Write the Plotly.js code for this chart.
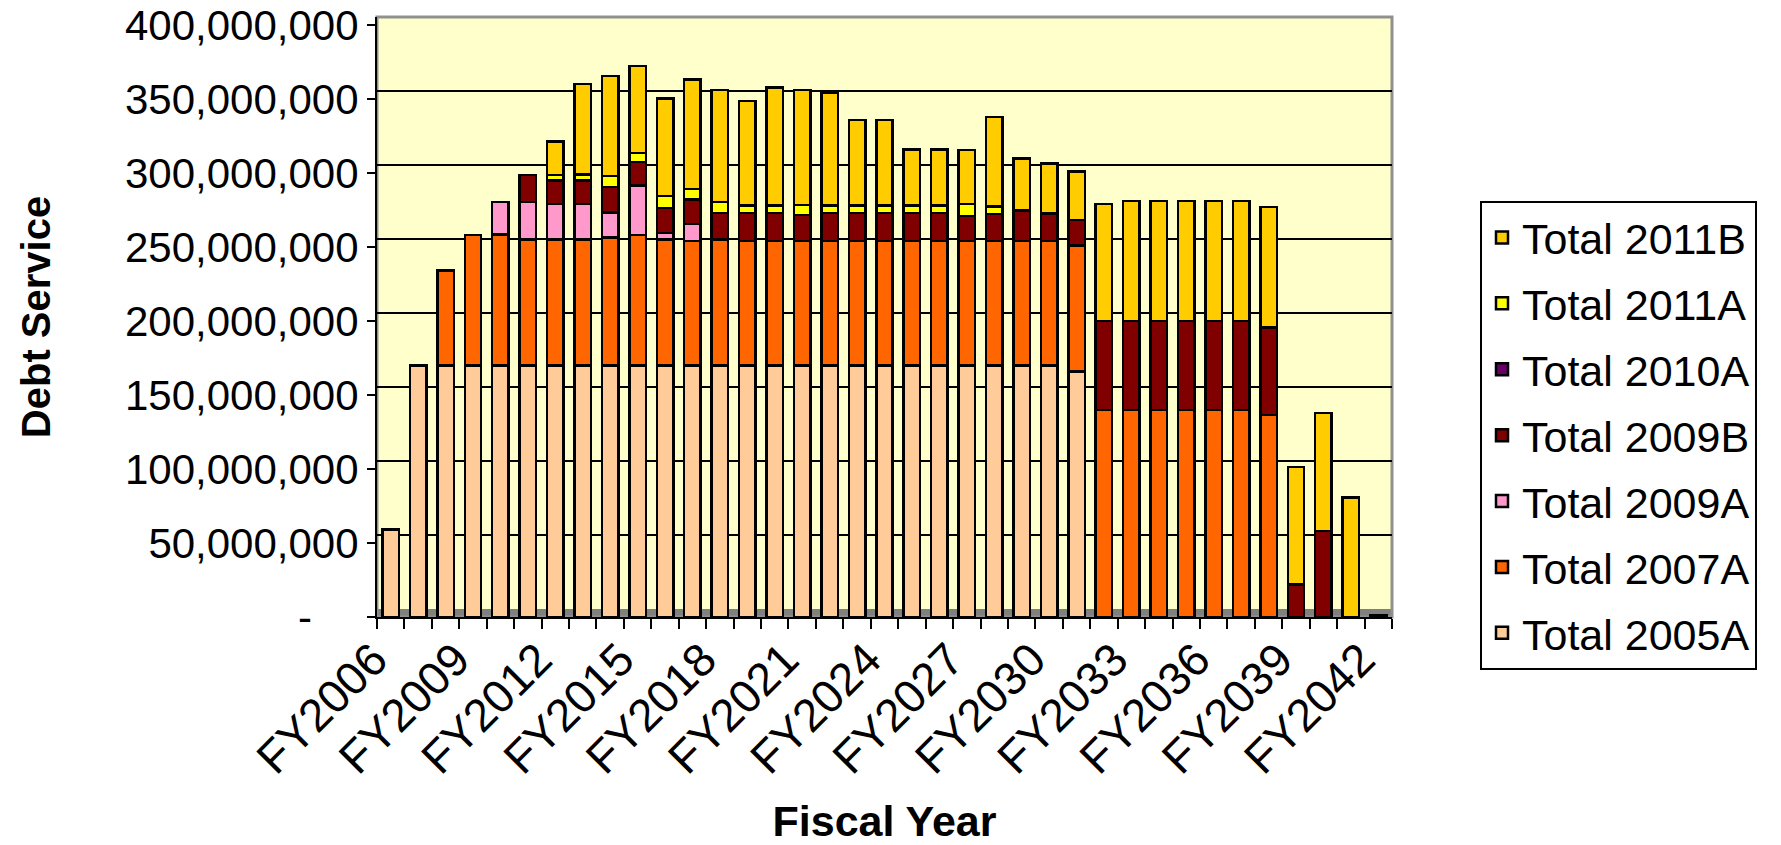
<!DOCTYPE html>
<html>
<head>
<meta charset="utf-8">
<script src="https://cdn.plot.ly/plotly-3.0.1.min.js"></script>
<style>
  html, body { margin: 0; padding: 0; background: #ffffff; }
  #chart { width: 1781px; height: 845px; }
</style>
</head>
<body>
<div id="chart"></div>
<script>
// ---- Data (values in millions of dollars) ----
const fiscalYears = [
  'FY2006','FY2007','FY2008','FY2009','FY2010','FY2011','FY2012','FY2013','FY2014','FY2015',
  'FY2016','FY2017','FY2018','FY2019','FY2020','FY2021','FY2022','FY2023','FY2024','FY2025',
  'FY2026','FY2027','FY2028','FY2029','FY2030','FY2031','FY2032','FY2033','FY2034','FY2035',
  'FY2036','FY2037','FY2038','FY2039','FY2040','FY2041','FY2042'
];

const total2005A = [
  59, 170, 170, 170, 170, 170, 170, 170, 170, 170,
  170, 170, 170, 170, 170, 170, 170, 170, 170, 170,
  170, 170, 170, 170, 170, 166, 0, 0, 0, 0,
  0, 0, 0, 0, 0, 0, 0
];

const total2007A = [
  0, 0, 64, 88, 88.5, 85, 85, 85, 86.4, 88,
  85, 84, 85, 84, 84, 84, 84, 84, 84, 84,
  84, 84, 84, 84, 84, 85, 140, 140, 140, 140,
  140, 140, 136.5, 0, 0, 0, 0
];

const total2009A = [
  0, 0, 0, 0, 22, 25.5, 24, 24, 17, 33.5,
  4.5, 11.7, 0, 0, 0, 0, 0, 0, 0, 0,
  0, 0, 0, 0, 0, 0, 0, 0, 0, 0,
  0, 0, 0, 0, 0, 0, 0
];

const total2009B = [
  0, 0, 0, 0, 0, 18, 16, 16, 17, 16,
  17, 16.4, 18, 19, 19, 17.5, 19, 19, 19, 19,
  19, 17, 18.4, 20.4, 18.6, 17.4, 60, 60, 60, 60,
  60, 60, 59, 22, 58, 0, 0
];

const total2010A = [
  0, 0, 0, 0, 0, 0, 0, 0, 0, 0,
  0, 0, 0, 0, 0, 0, 0, 0, 0, 0,
  0, 0, 0, 0, 0, 0, 0, 0, 0, 0,
  0, 0, 0, 0, 0, 0, 0
];

const total2011A = [
  0, 0, 0, 0, 0, 0, 3.5, 4, 7.5, 6,
  8, 7.2, 7.4, 5, 5, 7, 5, 5, 5, 5,
  5, 8, 5, 0.5, 0, 0, 0, 0, 0, 0,
  0, 0, 0, 0, 0, 0, 0
];

const total2011B = [
  0, 0, 0, 0, 0, 0, 22.8, 61, 67.7, 58.9,
  66, 74, 75.6, 70.8, 79.8, 77.5, 76.4, 57.7, 57.7, 38,
  38, 36.4, 60.6, 35, 33.8, 32.6, 79, 81, 81, 81,
  81, 81, 81.5, 79.5, 80, 80.7, 1
];

const seriesNames = ['Total 2005A','Total 2007A','Total 2009A','Total 2009B','Total 2010A','Total 2011A','Total 2011B'];
const seriesColors = ['#FFCC99','#FF6600','#FF99CC','#800000','#660066','#FFFF00','#FFCC00'];
const seriesValues = [total2005A, total2007A, total2009A, total2009B, total2010A, total2011A, total2011B];

const yTickVals = [0, 50, 100, 150, 200, 250, 300, 350, 400];
const yTickText = ['-\u00a0\u00a0\u00a0\u00a0', '50,000,000', '100,000,000', '150,000,000', '200,000,000',
                   '250,000,000', '300,000,000', '350,000,000', '400,000,000'];

const MILLION = 1e6;
const FONT = 'Arial, "Liberation Sans", sans-serif';

const traces = seriesNames.map((name, k) => ({
  type: 'bar',
  name: name,
  legendgroup: name,
  legendrank: seriesNames.length - k,
  x: fiscalYears,
  y: seriesValues[k].map(v => v * MILLION),
  marker: { color: seriesColors[k], line: { color: '#000000', width: 2.5 } },
  hoverinfo: 'x+y+name'
}));

// back-wall offset (3D depth) in millions for gridlines
const wallDepth = 5.4;

const layout = {
  width: 1781,
  height: 845,
  autosize: false,
  paper_bgcolor: '#ffffff',
  plot_bgcolor: '#FFFFCC',
  barmode: 'stack',
  bargap: 0.4,
  margin: { l: 377, r: 389, t: 17, b: 228, pad: 0 },
  font: { family: FONT, color: '#000000', size: 42 },
  showlegend: true,
  legend: {
    x: 1.0867, xanchor: 'left',
    y: 0.6933, yanchor: 'top',
    traceorder: 'grouped',
    tracegroupgap: 7,
    bgcolor: '#ffffff',
    bordercolor: '#000000',
    borderwidth: 2,
    font: { family: FONT, size: 43, color: '#000000' }
  },
  xaxis: {
    type: 'category',
    categoryorder: 'array',
    categoryarray: fiscalYears,
    range: [-0.5, fiscalYears.length - 0.5],
    autorange: false,
    tickmode: 'array',
    tickvals: fiscalYears,
    ticktext: fiscalYears.map((y, i) => (i % 3 === 0 ? y : '')),
    tickson: 'boundaries',
    ticks: 'outside',
    ticklen: 10,
    tickwidth: 2,
    tickcolor: '#000000',
    tickangle: -45,
    ticklabelshift: -17,
    ticklabelstandoff: -5,
    tickfont: { family: FONT, size: 46, color: '#000000' },
    showline: true,
    linecolor: '#000000',
    linewidth: 2,
    showgrid: false,
    zeroline: false,
    title: { text: 'Fiscal Year', font: { family: FONT, size: 43, color: '#000000', weight: 'bold' }, standoff: 35 }
  },
  yaxis: {
    range: [0, (400 + wallDepth) * MILLION],
    autorange: false,
    tickmode: 'array',
    tickvals: yTickVals.map(v => v * MILLION),
    ticktext: yTickText,
    ticks: 'outside',
    ticklen: 8,
    tickwidth: 2,
    tickcolor: '#000000',
    tickfont: { family: FONT, size: 42, color: '#000000' },
    showline: true,
    linecolor: '#000000',
    linewidth: 2,
    showgrid: false,
    zeroline: false,
    title: { text: 'Debt Service', font: { family: FONT, size: 40, color: '#000000', weight: 'bold' }, standoff: 62 }
  },
  yaxis2: {
    overlaying: 'y',
    side: 'right',
    range: [-wallDepth * MILLION, 400 * MILLION],
    autorange: false,
    tickmode: 'array',
    tickvals: yTickVals.slice(1).map(v => v * MILLION),
    showticklabels: false,
    ticks: '',
    showgrid: true,
    gridcolor: '#000000',
    gridwidth: 2,
    zeroline: false,
    showline: false
  },
  shapes: [
    { type: 'rect', xref: 'paper', yref: 'y', x0: 0, x1: 1, y0: 0, y1: wallDepth * MILLION,
      fillcolor: '#808080', line: { width: 0 }, layer: 'below' },
    { type: 'rect', xref: 'paper', yref: 'paper', x0: 0, x1: 1, y0: 0, y1: 1,
      fillcolor: 'rgba(0,0,0,0)', line: { color: '#909090', width: 3 }, layer: 'below' }
  ]
};

// invisible helper trace so that the back-wall grid axis (yaxis2) is drawn
traces.push({ type: 'scatter', mode: 'none', x: [fiscalYears[0]], y: [null], yaxis: 'y2', showlegend: false, hoverinfo: 'skip' });

Plotly.newPlot('chart', traces, layout, { displayModeBar: false, staticPlot: true });
</script>
</body>
</html>
